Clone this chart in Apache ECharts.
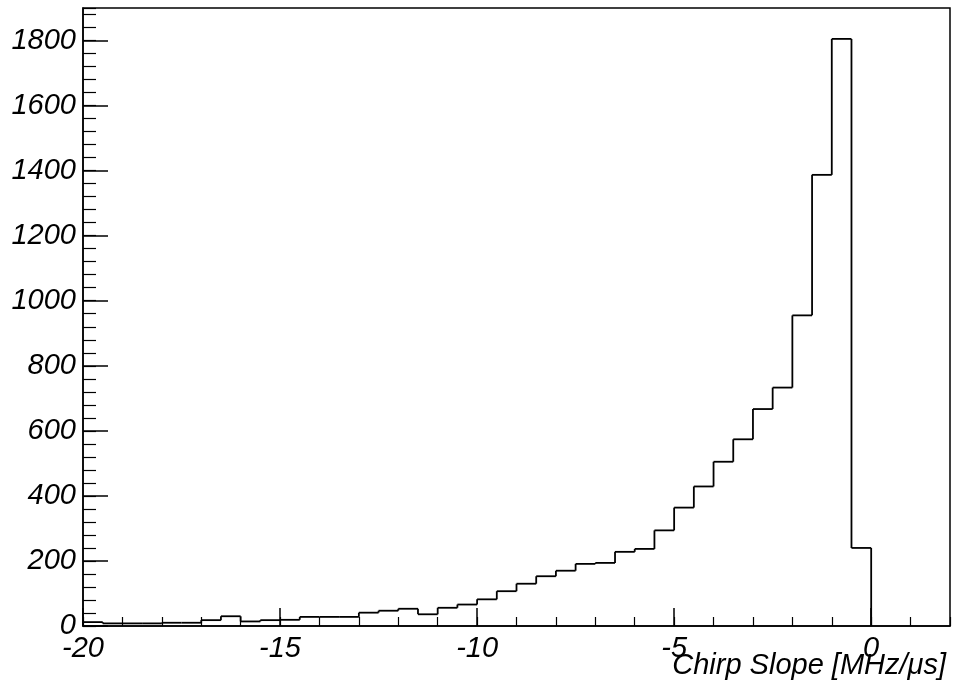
<!DOCTYPE html>
<html>
<head>
<meta charset="utf-8">
<title>Chirp Slope</title>
<script src="https://cdn.jsdelivr.net/npm/echarts@6/dist/echarts.min.js"></script>
<style>
html,body{margin:0;padding:0;background:#fff;}
#main{width:955px;height:693px;}
</style>
</head>
<body>
<div id="main"></div>
<script>
// 直方图数据 bins of 0.5 starting at -20
var binStart = -20;
var binWidth = 0.5;
var counts = [12, 8, 8, 8, 10, 10, 18, 30, 14, 18,
	19, 28, 28, 28, 41, 47, 53, 36, 56, 66,
	82, 107, 130, 153, 170, 191, 194, 228, 237, 294,
	364, 429, 505, 574, 667, 733, 955, 1387, 1805, 240];
var xTitle = 'Chirp Slope [MHz/\u03bcs]';

//each item: [left edge, right edge, count, previous count]
var binData = [];
for (var i = 0; i < counts.length; i++) {
	binData.push([binStart + i * binWidth, binStart + (i + 1) * binWidth, counts[i], i > 0 ? counts[i - 1] : 0]);
}
//closing drop to zero
var lastEdge = binStart + counts.length * binWidth;
binData.push([lastEdge, lastEdge, 0, counts[counts.length - 1]]);

var font = 'Liberation Sans';
var fs = 29;
function plain(v){ return String(v); }

function drawBin(params, api) {
	var a = api.coord([api.value(0), api.value(3)]);
	var b = api.coord([api.value(0), api.value(2)]);
	var c = api.coord([api.value(1), api.value(2)]);
	var st = {stroke: '#000', lineWidth: 1.8, fill: null};
	return {
		type: 'group',
		children: [
			{type: 'line', shape: {x1: a[0], y1: a[1], x2: b[0], y2: b[1]}, style: st},
			{type: 'line', shape: {x1: b[0], y1: b[1], x2: c[0], y2: c[1]}, style: st}
		]
	};
}

var chart = echarts.init(document.getElementById('main'));
chart.setOption({
	animation: false,
	title: {
		text: xTitle,
		right: 4,
		top: 646,
		textStyle: {fontFamily: font, fontStyle: 'italic', fontWeight: 'normal', fontSize: fs, color: '#000'}
	},
	grid: {
		left: 83, right: 5, top: 8, bottom: 67,
		show: true,
		borderColor: '#000',
		borderWidth: 1.5,
		backgroundColor: 'transparent'
	},
	xAxis: [
		{
			type: 'value', min: -20, max: 2, interval: 5,
			axisLine: {show: true, onZero: false, lineStyle: {color: '#000', width: 1.5}},
			axisTick: {show: true, inside: true, length: 18, lineStyle: {color: '#000', width: 1.5}},
			axisLabel: {margin: 8, showMaxLabel: false, formatter: plain,
				fontFamily: font, fontStyle: 'italic', fontSize: fs, color: '#000'},
			splitLine: {show: false}
		},
		{
			//minor ticks
			type: 'value', min: -20, max: 2, interval: 1, position: 'bottom',
			axisLine: {show: false, onZero: false},
			axisTick: {show: true, inside: true, length: 9, lineStyle: {color: '#000', width: 1.2}},
			axisLabel: {show: false},
			splitLine: {show: false}
		}
	],
	yAxis: [
		{
			type: 'value', min: 0, max: 1900, interval: 200,
			axisLine: {show: true, onZero: false, lineStyle: {color: '#000', width: 1.5}},
			axisTick: {show: true, inside: true, length: 25, lineStyle: {color: '#000', width: 1.5}},
			axisLabel: {margin: 7, showMaxLabel: false, formatter: plain,
				fontFamily: font, fontStyle: 'italic', fontSize: fs, color: '#000'},
			splitLine: {show: false}
		},
		{
			type: 'value', min: 0, max: 1900, interval: 40, position: 'left',
			axisLine: {show: false, onZero: false},
			axisTick: {show: true, inside: true, length: 13, lineStyle: {color: '#000', width: 1.2}},
			axisLabel: {show: false},
			splitLine: {show: false}
		}
	],
	series: [
		{
			type: 'custom',
			renderItem: drawBin,
			data: binData,
			encode: {x: [0, 1], y: [2, 3]},
			xAxisIndex: 0,
			yAxisIndex: 0,
			clip: false
		}
	]
});
</script>
</body>
</html>
